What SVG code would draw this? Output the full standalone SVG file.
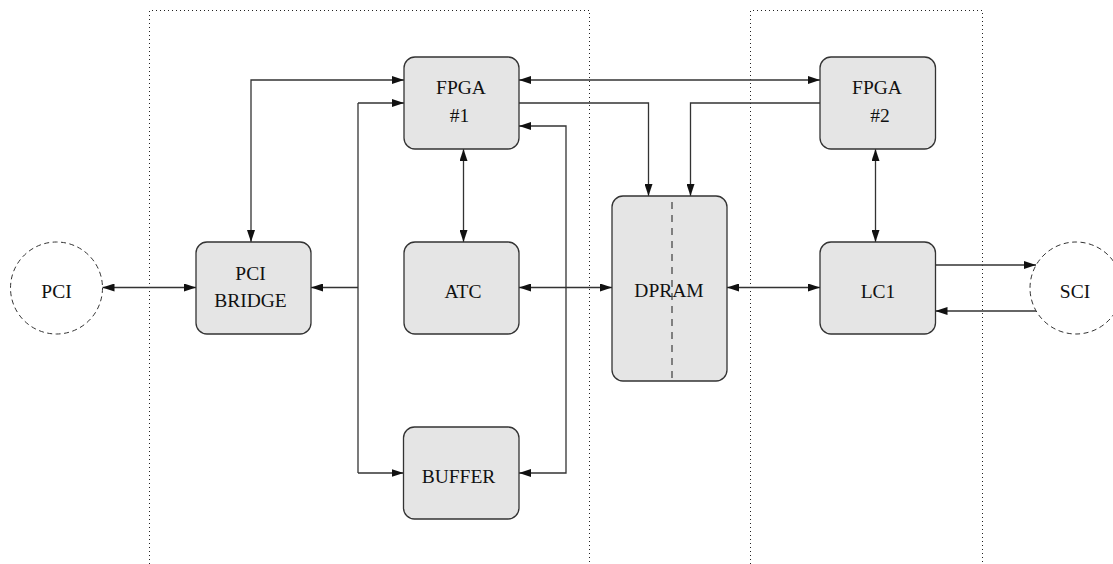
<svg xmlns="http://www.w3.org/2000/svg" width="1113" height="564" viewBox="0 0 1113 564">
  <style>
    .bg { fill: #ffffff; }
    .region { fill: none; stroke: #222; stroke-width: 1; stroke-dasharray: 1 3; }
    .box { fill: #e5e5e5; stroke: #333; stroke-width: 1.3; }
    .ext { fill: none; stroke: #333; stroke-width: 1; stroke-dasharray: 5 3.5; }
    .split { fill: none; stroke: #555; stroke-width: 1.4; stroke-dasharray: 7 6; }
    .wire { fill: none; stroke: #333; stroke-width: 1.3; }
    .lbl { font-family: "Liberation Serif", "Times New Roman", serif; font-size: 19.5px; fill: #111; text-anchor: middle; }
  </style>
  <defs>
    <marker id="arrow" viewBox="0 0 12 8" refX="12" refY="4" markerWidth="12" markerHeight="8" markerUnits="userSpaceOnUse" orient="auto-start-reverse">
      <path d="M0,0 L12,4 L0,8 z" fill="#111"/>
    </marker>
  </defs>

  <rect class="bg" x="0" y="0" width="1113" height="564"/>

  <!-- board outlines (open at the bottom) -->
  <g id="regions">
    <path class="region" d="M149.5 564 V10.5 H589.5 V564"/>
    <path class="region" d="M750.5 564 V10.5 H982.5 V564"/>
  </g>

  <!-- connectors -->
  <g id="connectors">
    <!-- PCI <-> PCI BRIDGE -->
    <path class="wire" d="M102.5 287.5 H196" marker-start="url(#arrow)" marker-end="url(#arrow)"/>
    <!-- PCI BRIDGE <-> FPGA #1 -->
    <path class="wire" d="M251 242 V80 H404" marker-start="url(#arrow)" marker-end="url(#arrow)"/>
    <!-- local bus on the left -->
    <path class="wire" d="M311 287.5 H358" marker-start="url(#arrow)"/>
    <path class="wire" d="M358 103 V473"/>
    <path class="wire" d="M358 103 H404" marker-end="url(#arrow)"/>
    <path class="wire" d="M358 473 H403.5" marker-end="url(#arrow)"/>
    <!-- FPGA #1 <-> BUFFER on the right -->
    <path class="wire" d="M519 126 H566 V473 H519" marker-start="url(#arrow)" marker-end="url(#arrow)"/>
    <!-- FPGA #1 <-> ATC -->
    <path class="wire" d="M463.5 149 V242" marker-start="url(#arrow)" marker-end="url(#arrow)"/>
    <!-- ATC <-> DPRAM -->
    <path class="wire" d="M519 287.5 H612" marker-start="url(#arrow)" marker-end="url(#arrow)"/>
    <!-- DPRAM <-> LC1 -->
    <path class="wire" d="M727 287.5 H820" marker-start="url(#arrow)" marker-end="url(#arrow)"/>
    <!-- FPGA #1 <-> FPGA #2 -->
    <path class="wire" d="M519 80 H820" marker-start="url(#arrow)" marker-end="url(#arrow)"/>
    <!-- FPGA #1 -> DPRAM -->
    <path class="wire" d="M519 103 H648.5 V196" marker-end="url(#arrow)"/>
    <!-- FPGA #2 -> DPRAM -->
    <path class="wire" d="M820 103 H690.5 V196" marker-end="url(#arrow)"/>
    <!-- FPGA #2 <-> LC1 -->
    <path class="wire" d="M875.5 149 V242" marker-start="url(#arrow)" marker-end="url(#arrow)"/>
    <!-- LC1 -> SCI -->
    <path class="wire" d="M935.5 265 H1036" marker-end="url(#arrow)"/>
    <!-- SCI -> LC1 -->
    <path class="wire" d="M1036 311 H935.5" marker-end="url(#arrow)"/>
  </g>

  <g id="pci">
    <circle class="ext" cx="56.5" cy="288" r="46"/>
    <text class="lbl" x="56.5" y="297.5">PCI</text>
  </g>

  <g id="pci-bridge">
    <rect class="box" x="196" y="242" width="115" height="92" rx="11"/>
    <text class="lbl" x="250.5" y="279.5">PCI</text>
    <text class="lbl" x="250.5" y="306.8">BRIDGE</text>
  </g>

  <g id="fpga1">
    <rect class="box" x="404" y="57" width="115" height="92" rx="11"/>
    <text class="lbl" x="461" y="94.3">FPGA</text>
    <text class="lbl" x="459.5" y="122">#1</text>
  </g>

  <g id="atc">
    <rect class="box" x="404" y="242" width="115" height="92" rx="11"/>
    <text class="lbl" x="463" y="297.5">ATC</text>
  </g>

  <g id="buffer">
    <rect class="box" x="403.5" y="427" width="115.5" height="92" rx="11"/>
    <text class="lbl" x="458.5" y="483.3">BUFFER</text>
  </g>

  <g id="dpram">
    <rect class="box" x="612" y="196" width="115" height="185" rx="11"/>
    <line class="split" x1="672" y1="202" x2="672" y2="380"/>
    <text class="lbl" x="669" y="297">DPRAM</text>
  </g>

  <g id="fpga2">
    <rect class="box" x="820" y="57" width="115.5" height="92" rx="11"/>
    <text class="lbl" x="877" y="94.3">FPGA</text>
    <text class="lbl" x="880" y="122">#2</text>
  </g>

  <g id="lc1">
    <rect class="box" x="820" y="242" width="115.5" height="92" rx="11"/>
    <text class="lbl" x="878" y="297.5">LC1</text>
  </g>

  <g id="sci">
    <circle class="ext" cx="1076" cy="288" r="46"/>
    <text class="lbl" x="1075" y="297.5">SCI</text>
  </g>
</svg>
